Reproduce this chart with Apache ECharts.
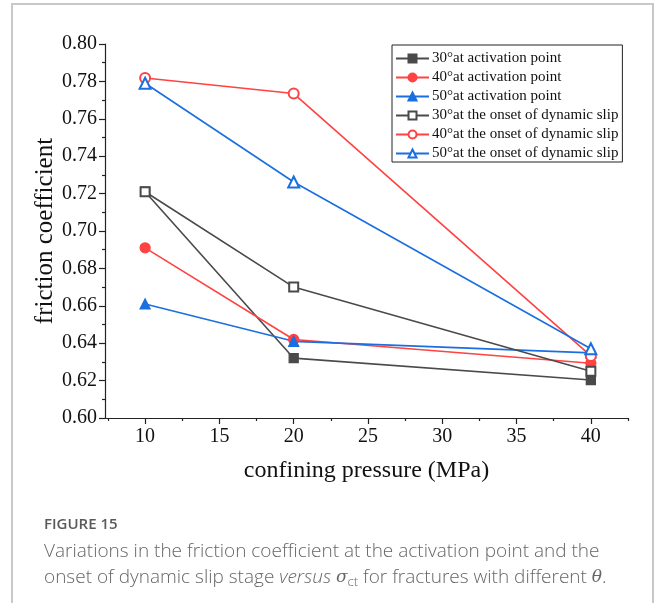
<!DOCTYPE html>
<html>
<head>
<meta charset="utf-8">
<script src="https://cdn.jsdelivr.net/npm/echarts@6/dist/echarts.min.js"></script>
<style>
html,body{margin:0;padding:0;background:#fff;}
#c{width:654px;height:603px;}
</style>
</head>
<body>
<div id="c"></div>
<script>
const pressures = [10, 20, 40];
const xMajorTicks = [10, 15, 20, 25, 30, 35, 40];
const xMinorTicks = [7.5, 12.5, 17.5, 22.5, 27.5, 32.5, 37.5, 42.5];
const seriesNames = [
  '30°at activation point',
  '40°at activation point',
  '50°at activation point',
  '30°at the onset of dynamic slip',
  '40°at the onset of dynamic slip',
  '50°at the onset of dynamic slip'
];
const act30 = [0.721, 0.632, 0.6203];
const act40 = [0.691, 0.642, 0.6293];
const act50 = [0.661, 0.641, 0.6348];
const onset30 = [0.721, 0.670, 0.6250];
const onset40 = [0.7818, 0.7735, 0.6332];
const onset50 = [0.7790, 0.7262, 0.6370];

const GRAY = '#4a4a4a', RED = '#ff4242', BLUE = '#1a6fe0';
const serif = '"Liberation Serif","Times New Roman",serif';

function mk(name, vals, color, symbol, size) {
  return {
    name: name, type: 'line', xAxisIndex: 0,
    data: pressures.map((p, i) => [p, vals[i]]),
    symbol: symbol, symbolSize: size,
    lineStyle: {color: color, width: 1.6},
    itemStyle: {color: color, borderColor: color, borderWidth: 1.3},
    emphasis: {disabled: true},
    z: 2
  };
}

const chart = echarts.init(document.getElementById('c'), null, {renderer: 'canvas'});
chart.setOption({
  animation: false,
  backgroundColor: '#fff',
  grid: {left: 105, right: 26, top: 44, bottom: 185},
  legend: {
    orient: 'vertical', left: 392, top: 45,
    padding: [6, 4, 1, 3],
    itemGap: 4, itemWidth: 33, itemHeight: 10,
    borderColor: '#222', borderWidth: 1,
    textStyle: {fontFamily: serif, fontSize: 15, lineHeight: 15, color: '#111', padding: [0,0,0,-2]},
    data: seriesNames
  },
  xAxis: [{
    type: 'value', min: 7.3, max: 42.5,
    axisLine: {show: true, onZero: false, lineStyle: {color: '#222', width: 1.2}},
    axisTick: {show: true, customValues: xMajorTicks, length: 6, lineStyle: {color: '#222', width: 1.2}},
    axisLabel: {show: true, customValues: xMajorTicks, fontFamily: serif, fontSize: 20, color: '#111', margin: 9},
    splitLine: {show: false},
    name: 'confining pressure (MPa)', nameLocation: 'middle', nameGap: 41, nameMoveOverlap: false,
    nameTextStyle: {fontFamily: serif, fontSize: 24, color: '#111'}
  }, {
    type: 'value', min: 7.3, max: 42.5, position: 'bottom',
    axisLine: {show: false},
    axisTick: {show: true, customValues: xMinorTicks, length: 3, lineStyle: {color: '#222', width: 1.2}},
    axisLabel: {show: false},
    splitLine: {show: false}
  }],
  yAxis: {
    type: 'value', min: 0.60, max: 0.80, interval: 0.02,
    axisLine: {show: true, lineStyle: {color: '#222', width: 1.2}},
    axisTick: {show: true, length: 6, lineStyle: {color: '#222', width: 1.2}},
    minorTick: {show: true, splitNumber: 2, length: 3, lineStyle: {color: '#222', width: 1.2}},
    axisLabel: {fontFamily: serif, fontSize: 20, color: '#111', margin: 8,
      formatter: v => v.toFixed(2)},
    splitLine: {show: false},
    name: 'friction coefficient', nameLocation: 'middle', nameGap: 47, nameMoveOverlap: false,
    nameTextStyle: {fontFamily: serif, fontSize: 25, color: '#111'}
  },
  series: [
    mk(seriesNames[0], act30, GRAY, 'rect', 9),
    mk(seriesNames[1], act40, RED, 'circle', 10),
    mk(seriesNames[2], act50, BLUE, 'triangle', 10),
    mk(seriesNames[3], onset30, GRAY, 'emptyRect', 9),
    mk(seriesNames[4], onset40, RED, 'emptyCircle', 10),
    mk(seriesNames[5], onset50, BLUE, 'emptyTriangle', 11)
  ],
  graphic: [
    {type: 'rect', shape: {x: 12, y: 4, width: 641, height: 620},
     style: {fill: 'none', stroke: '#c8c8c8', lineWidth: 2}, silent: true},
    {type: 'text', left: 44, top: 517,
     style: {text: 'FIGURE 15', font: '600 15px "Open Sans", sans-serif', fill: '#5a5a5a'}},
    {type: 'text', left: 44, top: 542,
     style: {text: 'Variations in the friction coefficient at the activation point and the',
       font: '300 19px "Open Sans", sans-serif', fill: '#666'}},
    {type: 'text', left: 44, top: 568,
     style: {
       text: 'onset of dynamic slip stage {i|versus} {s|σ}{sub|ct} for fractures with different {s|θ}.',
       font: '300 19px "Open Sans", sans-serif', fill: '#666',
       rich: {
         i: {fontStyle: 'italic', fontFamily: '"Open Sans", sans-serif', fontWeight: 300, fontSize: 19, fill: '#666'},
         s: {fontStyle: 'italic', fontFamily: '"DejaVu Serif", serif', fontSize: 17, fill: '#666'},
         sub: {fontFamily: '"Open Sans", sans-serif', fontWeight: 300, fontSize: 13, fill: '#666', padding: [9,0,0,0]}
       }
     }}
  ]
});
</script>
</body>
</html>
